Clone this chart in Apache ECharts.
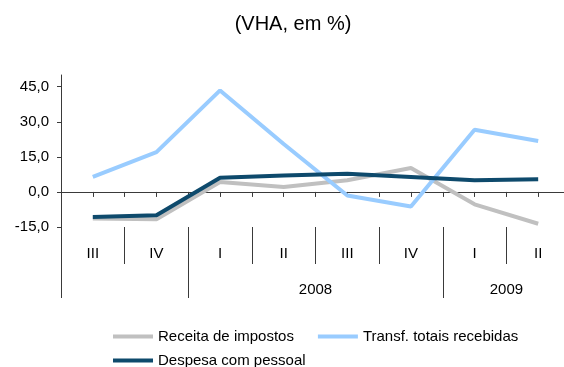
<!DOCTYPE html>
<html>
<head>
<meta charset="utf-8">
<script src="https://cdn.jsdelivr.net/npm/echarts@6/dist/echarts.min.js"></script>
<style>
  html, body { margin: 0; padding: 0; background: #fff; }
  #chart { width: 564px; height: 367px; }
</style>
</head>
<body>
<div id="chart"></div>
<script>
// Quarterly year-on-year change (%)
const quarters = ['III', 'IV', 'I', 'II', 'III', 'IV', 'I', 'II'];
const years = ['2008', '2009'];
const yearCenters = [4, 7];          // middle of each year's quarter span
const yearBounds = [0, 2, 6, 8];     // where the year groups start/end
const yTicks = [-15, 0, 15, 30, 45];

const receitaImpostos = [-11.4, -11.7, 4.2, 2.1, 5.0, 10.2, -5.3, -13.6];
const transfRecebidas = [6.4, 17.0, 43.4, 20.5, -1.5, -6.2, 26.6, 21.8];
const despesaPessoal = [-10.7, -10.0, 6.1, 7.0, 7.8, 6.4, 5.0, 5.4];

const FONT = '"Liberation Sans", Arial, sans-serif';
const AXIS = '#3a3a3a';

const fmt = v => v.toFixed(1).replace('.', ',');

const chart = echarts.init(document.getElementById('chart'), null, { renderer: 'canvas' });

chart.setOption({
  animation: false,
  backgroundColor: '#ffffff',
  title: {
    text: '(VHA, em %)',
    left: 288,
    textAlign: 'center',
    top: 9,
    textStyle: { fontFamily: FONT, fontSize: 20, fontWeight: 'normal', color: '#000' }
  },
  grid: {
    left: 61, top: 75, right: -6, bottom: 140,
    containLabel: false, outerBoundsMode: 'none'
  },
  legend: [
    {
      data: ['Receita de impostos', 'Transf. totais recebidas'],
      left: 108, top: 324, icon: 'rect', itemWidth: 40, itemHeight: 4, itemGap: 24,
      textStyle: { fontFamily: FONT, fontSize: 15, color: '#000' }
    },
    {
      data: ['Despesa com pessoal'],
      left: 108, top: 348, icon: 'rect', itemWidth: 40, itemHeight: 4,
      textStyle: { fontFamily: FONT, fontSize: 15, color: '#000' }
    }
  ],
  xAxis: [
    {
      // quarter row under the plot, separators between quarters
      type: 'category', data: quarters, position: 'bottom', boundaryGap: true,
      axisLine: { show: false, onZero: false },
      axisTick: { show: true, alignWithLabel: false, interval: 0, length: 37, lineStyle: { color: AXIS, width: 1 } },
      axisLabel: { interval: 0, margin: 19, fontFamily: FONT, fontSize: 15, color: '#000' },
      splitLine: { show: false }
    },
    {
      // zero line with half-quarter ticks
      type: 'value', min: 0, max: 8, interval: 0.5, position: 'bottom',
      axisLine: { show: true, onZero: true, lineStyle: { color: AXIS, width: 1 } },
      axisTick: { show: true, length: 5, lineStyle: { color: AXIS, width: 1 } },
      axisLabel: { show: false },
      splitLine: { show: false }
    },
    {
      // year row with long separators
      type: 'value', min: 0, max: 8, position: 'bottom',
      axisLine: { show: false, onZero: false },
      axisTick: { show: true, customValues: yearBounds, length: 71, lineStyle: { color: AXIS, width: 1 } },
      axisLabel: {
        show: true, customValues: yearCenters, margin: 55,
        fontFamily: FONT, fontSize: 15, color: '#000',
        formatter: v => years[yearCenters.indexOf(v)] || ''
      },
      splitLine: { show: false }
    }
  ],
  yAxis: {
    type: 'value', min: -15, max: 50, interval: 15,
    axisLine: { show: true, onZero: false, lineStyle: { color: AXIS, width: 1 } },
    axisTick: { show: true, length: 4, customValues: yTicks, lineStyle: { color: AXIS, width: 1 } },
    axisLabel: {
      customValues: yTicks, margin: 12,
      fontFamily: FONT, fontSize: 15, color: '#000',
      formatter: v => (yTicks.indexOf(v) >= 0 ? fmt(v) : '')
    },
    splitLine: { show: false }
  },
  series: [
    {
      name: 'Receita de impostos', type: 'line', xAxisIndex: 0, data: receitaImpostos,
      showSymbol: false, symbol: 'none', color: '#C0C0C0',
      lineStyle: { width: 4, color: '#C0C0C0' }, z: 2
    },
    {
      name: 'Transf. totais recebidas', type: 'line', xAxisIndex: 0, data: transfRecebidas,
      showSymbol: false, symbol: 'none', color: '#99CCFF',
      lineStyle: { width: 4, color: '#99CCFF' }, z: 3
    },
    {
      name: 'Despesa com pessoal', type: 'line', xAxisIndex: 0, data: despesaPessoal,
      showSymbol: false, symbol: 'none', color: '#0E4A6C',
      lineStyle: { width: 4, color: '#0E4A6C' }, z: 4
    }
  ]
});
</script>
</body>
</html>
